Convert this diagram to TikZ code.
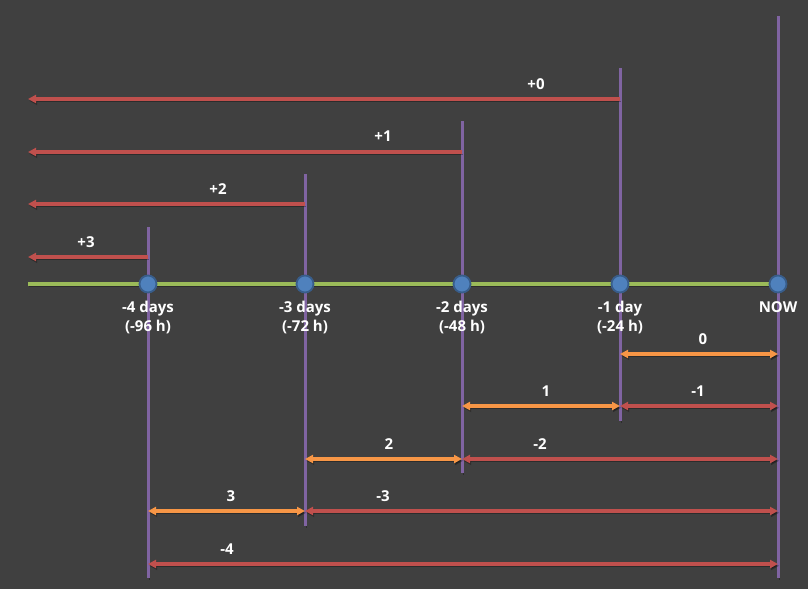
\documentclass[tikz,border=0pt]{standalone}
\usepackage{fontspec}
\setmainfont{Open Sans}
\usetikzlibrary{arrows.meta}
\definecolor{bg}{HTML}{404040}
\definecolor{redl}{HTML}{C0504D}
\definecolor{orl}{HTML}{F79646}
\definecolor{purl}{HTML}{8064A2}
\definecolor{grl}{HTML}{9BBB59}
\definecolor{bluel}{HTML}{4F81BD}
\definecolor{blueb}{HTML}{385D8A}
\tikzset{
  shad/.style={preaction={draw=black,opacity=0.3,transform canvas={shift={(1.2pt,-1.8pt)}}}},
  vline/.style={draw=purl,line width=3pt,shad},
  tline/.style={draw=grl,line width=4.4pt,shad},
  redarr/.style={draw=redl,line width=3.4pt,shad},
  orarr/.style={draw=orl,line width=3.4pt,shad},
  tip/.tip={Triangle[length=8pt,width=8pt]},
  dot/.style={circle,fill=bluel,draw=blueb,line width=1.8pt,minimum size=17pt,inner sep=0pt},
  lbl/.style={text=white,font=\bfseries\fontsize{15}{19}\selectfont,inner sep=1pt},
  tlbl/.style={text=white,font=\bfseries\fontsize{15}{19}\selectfont,align=center,inner sep=1pt}
}
\begin{document}
\begin{tikzpicture}[x=1pt,y=-1pt]
\fill[bg] (0,0) rectangle (808,589);
\useasboundingbox (0,0) rectangle (808,589);
% vertical lines
\coordinate (t4) at (148,227); \coordinate (b4) at (148,578);
\coordinate (t3) at (305,174); \coordinate (b3) at (305,526);
\coordinate (t2) at (462,121); \coordinate (b2) at (462,473);
\coordinate (t1) at (620,68);  \coordinate (b1) at (620,421);
\coordinate (tn) at (778,16);  \coordinate (bn) at (778,578);
\draw[vline] (t4) -- (b4);
\draw[vline] (t3) -- (b3);
\draw[vline] (t2) -- (b2);
\draw[vline] (t1) -- (b1);
\draw[vline] (tn) -- (bn);
% timeline
\coordinate (tl) at (28,284);
\coordinate (tr) at (778,284);
\draw[tline] (tl) -- (tr);
\node[dot] (d4) at (148,284) {};
\node[dot] (d3) at (305,284) {};
\node[dot] (d2) at (462,284) {};
\node[dot] (d1) at (620,284) {};
\node[dot] (dn) at (778,284) {};
\node[tlbl,anchor=north] (l4) at (148,300) {-4 days\\(-96 h)};
\node[tlbl,anchor=north] (l3) at (305,300) {-3 days\\(-72 h)};
\node[tlbl,anchor=north] (l2) at (462,300) {-2 days\\(-48 h)};
\node[tlbl,anchor=north] (l1) at (620,300) {-1 day\\(-24 h)};
\node[tlbl,anchor=north] (ln) at (778,300) {NOW};
% left arrows
\coordinate (s0) at (620,99);  \coordinate (e0) at (28,99);
\coordinate (s1) at (462,152); \coordinate (e1) at (28,152);
\coordinate (s2) at (305,204); \coordinate (e2) at (28,204);
\coordinate (s3) at (148,257); \coordinate (e3) at (28,257);
\draw[redarr,-tip] (s0) -- (e0);
\draw[redarr,-tip] (s1) -- (e1);
\draw[redarr,-tip] (s2) -- (e2);
\draw[redarr,-tip] (s3) -- (e3);
\node[lbl] (p0) at (536,84) {+0};
\node[lbl] (p1) at (383,136) {+1};
\node[lbl] (p2) at (218,189) {+2};
\node[lbl] (p3) at (86,242) {+3};
% bottom arrows
\coordinate (a1) at (620,354); \coordinate (an) at (778,354);
\draw[orarr,tip-tip] (a1) -- (an);
\node[lbl] (q0) at (703,339) {0};
\coordinate (c2) at (462,406); \coordinate (c1) at (620,406); \coordinate (cn) at (778,406);
\draw[orarr,tip-tip] (c2) -- (c1);
\draw[redarr,tip-tip] (c1) -- (cn);
\node[lbl] (q1) at (546,391) {1};
\node[lbl] (m1) at (698,391) {-1};
\coordinate (e3b) at (305,459); \coordinate (e2b) at (462,459); \coordinate (enb) at (778,459);
\draw[orarr,tip-tip] (e3b) -- (e2b);
\draw[redarr,tip-tip] (e2b) -- (enb);
\node[lbl] (q2) at (389,444) {2};
\node[lbl] (m2) at (540,444) {-2};
\coordinate (f4) at (148,511); \coordinate (f3) at (305,511); \coordinate (fn) at (778,511);
\draw[orarr,tip-tip] (f4) -- (f3);
\draw[redarr,tip-tip] (f3) -- (fn);
\node[lbl] (q3) at (231,496) {3};
\node[lbl] (m3) at (383,496) {-3};
\coordinate (g4) at (148,564); \coordinate (gn) at (778,564);
\draw[redarr,tip-tip] (g4) -- (gn);
\node[lbl] (m4) at (227,549) {-4};
\end{tikzpicture}
\end{document}
